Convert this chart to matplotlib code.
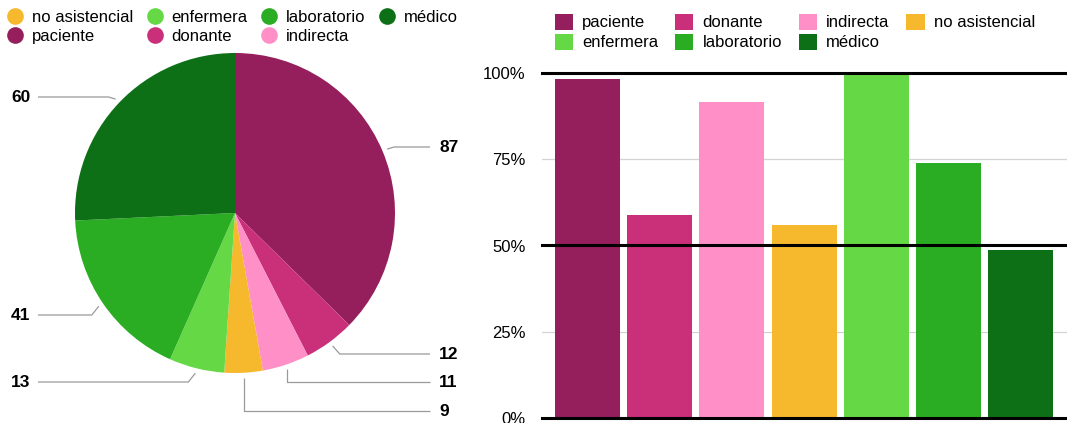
import numpy as np
import matplotlib
matplotlib.use("Agg")
import matplotlib.pyplot as plt
from matplotlib.lines import Line2D
from matplotlib.patches import Patch

plt.rcParams['font.family'] = ['Liberation Sans', 'DejaVu Sans']

# Pie: counts per category (clockwise from 12 o'clock)
pie_labels = ["paciente", "donante", "indirecta", "no asistencial",
              "enfermera", "laboratorio", "médico"]
pie_values = [87, 12, 11, 9, 13, 41, 60]

# Bars: share per category
bar_labels = ["paciente", "donante", "indirecta", "no asistencial",
              "enfermera", "laboratorio", "médico"]
bar_values = [0.982, 0.588, 0.915, 0.56, 1.0, 0.739, 0.487]

colors = {
    "paciente": "#951e5c",
    "donante": "#ca2f7a",
    "indirecta": "#ff8fc7",
    "no asistencial": "#f6b82c",
    "enfermera": "#65d845",
    "laboratorio": "#2aad22",
    "médico": "#0e7016",
}

W, H = 1067, 423
fig = plt.figure(figsize=(W / 100, H / 100), dpi=100)

# ---------------- pie ----------------
axp = fig.add_axes([0, 0, 480 / W, 1])
cx, cy, R = 235, H - 213, 160
wedges, _ = axp.pie(pie_values, colors=[colors[k] for k in pie_labels],
                    startangle=90, counterclock=False, center=(cx, cy),
                    radius=R, wedgeprops=dict(linewidth=0))
axp.set_xlim(0, 480)
axp.set_ylim(0, H)
axp.set_aspect('auto')
axp.axis('off')

# label placement (pixel rows, side) for each slice
label_rows = {"paciente": (147, 'r'), "donante": (354, 'r'), "indirecta": (382, 'r'),
              "no asistencial": (411, 'r'), "enfermera": (382, 'l'),
              "laboratorio": (315, 'l'), "médico": (97, 'l')}
lc = "#9a9a9a"
for w, name, val in zip(wedges, pie_labels, pie_values):
    ang = np.deg2rad((w.theta1 + w.theta2) / 2)
    ax_, ay_ = cx + (R + 5) * np.cos(ang), cy + (R + 5) * np.sin(ang)
    row, side = label_rows[name]
    ly = H - row
    if side == 'r':
        tx = 439
        x_end = 430
    else:
        tx = 11
        x_end = 38
    # elbow: diagonal if close to the label row, else vertical
    if abs(ay_ - ly) < 12:
        ex = ax_ + (7 if side == 'r' else -7)
        pts = [(ax_, ay_), (ex, ly), (x_end, ly)]
    else:
        pts = [(ax_, ay_), (ax_, ly), (x_end, ly)]
    xs, ys = zip(*pts)
    axp.plot(xs, ys, color=lc, lw=0.9, solid_capstyle='butt')
    axp.text(tx, ly, str(val), ha='left', va='center', fontsize=12.5,
             fontweight='bold', color='black')

leg_order = ["no asistencial", "paciente", "enfermera", "donante",
             "laboratorio", "indirecta", "médico"]
handles = [Line2D([], [], marker='o', ls='', markersize=12, markeredgewidth=0,
                  color=colors[k]) for k in leg_order]
fig.legend(handles, leg_order, loc='upper left', bbox_to_anchor=(-0.004, 1.005),
           ncol=4, frameon=False, fontsize=12, handlelength=0.95,
           handletextpad=0.5, columnspacing=0.85, labelspacing=0.25,
           borderaxespad=0.3)

# ---------------- bars ----------------
bot, top = 418.3, 72.7
axb = fig.add_axes([542 / W, (H - bot) / H, (W - 542) / W, (bot - top) / H])
x = np.arange(len(bar_labels))
axb.bar(x, bar_values, width=0.9, color=[colors[k] for k in bar_labels],
        zorder=2)
axb.set_xlim(-0.63, 6.64)
axb.set_ylim(0, 1)
for s in axb.spines.values():
    s.set_visible(False)
for yv in [0.25, 0.75]:
    axb.axhline(yv, color='#d4d4d4', lw=0.9, zorder=1)
for yv in [0, 0.5, 1.0]:
    axb.axhline(yv, color='black', lw=2.2, zorder=3, clip_on=False)
axb.set_xticks([])
axb.set_yticks([0, 0.25, 0.5, 0.75, 1.0])
axb.set_yticklabels(["0%", "25%", "50%", "75%", "100%"], fontsize=12)
axb.tick_params(axis='y', length=0, pad=12)

bleg_order = ["paciente", "enfermera", "donante", "laboratorio",
              "indirecta", "médico", "no asistencial"]
bhandles = [Patch(facecolor=colors[k], edgecolor='none') for k in bleg_order]
fig.legend(bhandles, bleg_order, loc='upper left',
           bbox_to_anchor=(543 / W, 0.995), ncol=4, frameon=False,
           fontsize=12, handlelength=1.1, handleheight=1.1,
           handletextpad=0.55, columnspacing=1.0, labelspacing=0.2,
           borderaxespad=0.3)

fig.savefig("out.png", dpi=100)
